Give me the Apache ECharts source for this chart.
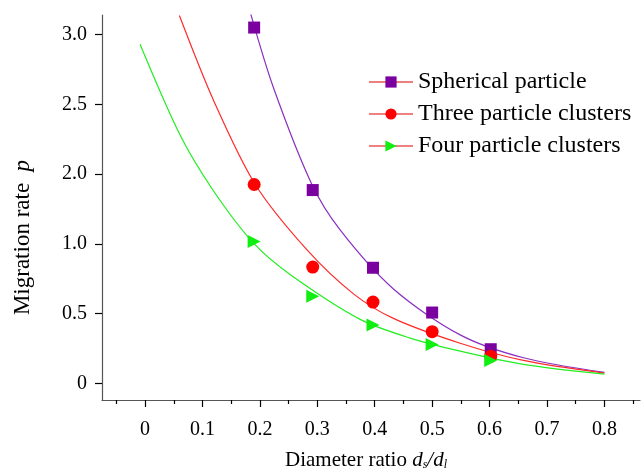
<!DOCTYPE html>
<html>
<head>
<meta charset="utf-8">
<script src="https://cdn.jsdelivr.net/npm/echarts@6/dist/echarts.min.js"></script>
<style>
  html, body { margin: 0; padding: 0; background: #fff; }
  #chart { width: 644px; height: 476px; }
</style>
</head>
<body>
<div id="chart"></div>
<script>
// tick positions and the labels printed on them
const xTicks = [0, 0.1, 0.2, 0.3, 0.4, 0.5, 0.6, 0.7, 0.8];
const xTickLabels = ['0', '0.1', '0.2', '0.3', '0.4', '0.5', '0.6', '0.7', '0.8'];
const xMinorTicks = [-0.05, 0.05, 0.15, 0.25, 0.35, 0.45, 0.55, 0.65, 0.75, 0.85];
const yTicks = [0, 0.5, 1, 1.5, 2, 2.5];
const yTickLabels = ['0', '0.5', '1.0', '2.0', '2.5', '3.0'];

// measured points
const pointX = [0.19, 0.292, 0.397, 0.5, 0.602];
const sphericalP = [2.55, 1.385, 0.828, 0.507, 0.244];
const threeP = [1.425, 0.833, 0.582, 0.37, 0.194];
const fourP = [1.016, 0.624, 0.418, 0.277, 0.164];

// fitted curves
const sphericalFitX = [0.184, 0.2235, 0.29, 0.3397, 0.4326, 0.5488, 0.659, 0.8];
const sphericalFitY = [2.648, 2.12, 1.43, 1.099, 0.676, 0.347, 0.183, 0.0775];
const threeFitX = [0.0598, 0.119, 0.1916, 0.2817, 0.363, 0.4326, 0.5488, 0.659, 0.8];
const threeFitY = [2.636, 2.03, 1.427, 0.958, 0.641, 0.465, 0.287, 0.164, 0.0725];
const fourFitX = [-0.0087, 0.061, 0.119, 0.189, 0.2526, 0.3746, 0.4617, 0.5488, 0.659, 0.8];
const fourFitY = [2.43, 1.779, 1.38, 1.004, 0.78, 0.458, 0.324, 0.23, 0.136, 0.0655];

const names = ['Spherical particle', 'Three particle clusters', 'Four particle clusters'];

const zip = (xs, ys) => xs.map((x, i) => [x, ys[i]]);
const serif = 'Liberation Serif, Times New Roman, serif';

const chart = echarts.init(document.getElementById('chart'), null, { renderer: 'canvas' });

// the line carries the symbol too, so the legend shows line + marker
function curve(name, xs, ys, color, symbol, rotate) {
  return {
    name: name, type: 'line', xAxisIndex: 0,
    data: zip(xs, ys),
    smooth: 0.3,
    symbol: symbol, symbolSize: 12, symbolRotate: rotate || 0, showSymbol: false,
    lineStyle: { color: color, width: 1.2 },
    itemStyle: { color: color },
    z: 2, silent: true
  };
}
function marks(name, ys, symbol, color, size, rotate) {
  return {
    name: name, type: 'scatter', xAxisIndex: 0,
    data: zip(pointX, ys),
    symbol: symbol, symbolSize: size, symbolRotate: rotate || 0,
    itemStyle: { color: color, opacity: 1 },
    z: 5
  };
}

const option = {
  animation: false,
  grid: { left: 102, right: 4, top: 15, bottom: 70 },
  legend: {
    left: 363, top: 65, orient: 'vertical',
    itemWidth: 44, itemHeight: 14, itemGap: 8,
    textStyle: { fontFamily: serif, fontSize: 24, color: '#000', lineHeight: 24 },
    data: [
      { name: names[0], itemStyle: { color: '#7a00a0' }, lineStyle: { color: '#dd0000', width: 1.2 } },
      { name: names[1], itemStyle: { color: '#ff0000' }, lineStyle: { color: '#f08080', width: 2 } },
      { name: names[2], itemStyle: { color: '#11ee11' }, lineStyle: { color: '#f08080', width: 2 } }
    ]
  },
  xAxis: [{
    type: 'value', min: -0.075, max: 0.862,
    name: 'Diameter ratio {i|d}{s|s}{i|/d}{s|l}',
    nameLocation: 'middle', nameGap: 49,
    nameTextStyle: {
      fontFamily: serif, fontSize: 21, color: '#000', padding: [0, 10, 0, 0],
      rich: {
        i: { fontFamily: serif, fontSize: 21, fontStyle: 'italic', color: '#000' },
        s: { fontFamily: serif, fontSize: 12, fontStyle: 'italic', color: '#000', verticalAlign: 'bottom', padding: [10, 0, 0, 0] }
      }
    },
    axisLine: { show: true, onZero: false, lineStyle: { color: '#555', width: 1.2 } },
    axisTick: { show: true, customValues: xTicks, length: 7, lineStyle: { color: '#000', width: 1.2 } },
    axisLabel: {
      customValues: xTicks, margin: 20,
      fontFamily: serif, fontSize: 20, color: '#000',
      formatter: v => xTickLabels[xTicks.findIndex(t => Math.abs(t - v) < 1e-6)]
    },
    splitLine: { show: false }
  }, {
    type: 'value', min: -0.075, max: 0.862, position: 'bottom',
    axisLine: { show: false, onZero: false },
    axisTick: { show: true, customValues: xMinorTicks, length: 4, lineStyle: { color: '#000', width: 1.2 } },
    axisLabel: { show: false },
    splitLine: { show: false }
  }],
  yAxis: {
    type: 'value', min: -0.12, max: 2.64,
    name: 'Migration rate  {i|p}',
    nameLocation: 'middle', nameGap: 68, nameRotate: 90,
    nameTextStyle: {
      fontFamily: serif, fontSize: 23, color: '#000', padding: [0, 60, 0, 0],
      rich: { i: { fontFamily: serif, fontSize: 23, fontStyle: 'italic', color: '#000' } }
    },
    axisLine: { show: true, onZero: false, lineStyle: { color: '#555', width: 1.2 } },
    axisTick: { show: true, customValues: yTicks, length: 7, lineStyle: { color: '#000', width: 1.2 } },
    axisLabel: {
      customValues: yTicks, margin: 15,
      fontFamily: serif, fontSize: 20, color: '#000',
      formatter: v => yTickLabels[Math.round(v / 0.5)]
    },
    splitLine: { show: false }
  },
  series: [
    curve(names[0], sphericalFitX, sphericalFitY, '#8a2fc0', 'rect'),
    curve(names[1], threeFitX, threeFitY, '#ff2a2a', 'circle'),
    curve(names[2], fourFitX, fourFitY, '#22ee22', 'triangle', -90),
    marks(names[0], sphericalP, 'rect', '#7a00a0', 12),
    marks(names[1], threeP, 'circle', '#ff0000', 13),
    marks(names[2], fourP, 'triangle', '#11ee11', 13, -90)
  ]
};

chart.setOption(option);
</script>
</body>
</html>
